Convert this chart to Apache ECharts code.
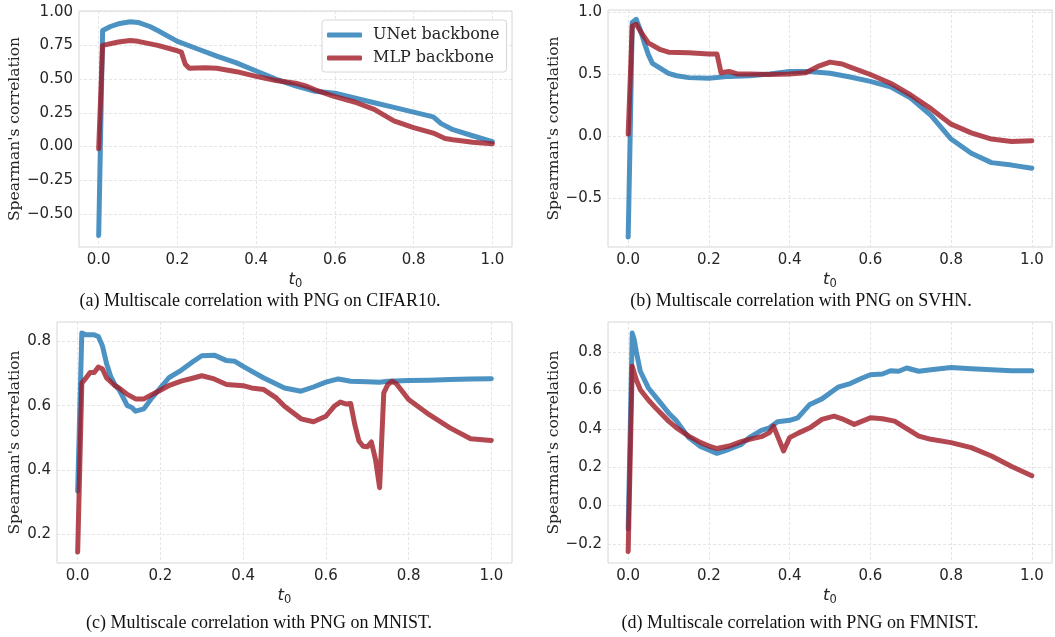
<!DOCTYPE html>
<html>
<head>
<meta charset="utf-8">
<script src="https://cdn.jsdelivr.net/npm/echarts@6/dist/echarts.min.js"></script>
<style>
  html, body { margin: 0; padding: 0; background: #fff; }
  #main { width: 1055px; height: 637px; }
</style>
</head>
<body>
<div id="main"></div>
<script>
// (a) CIFAR10
var aUnetT = [0, 0.01, 0.03, 0.05, 0.08, 0.1, 0.13, 0.15, 0.2, 0.25, 0.3, 0.35, 0.4, 0.45, 0.5, 0.55, 0.6, 0.65, 0.7, 0.75, 0.8, 0.85, 0.87, 0.9, 0.95, 1.0];
var aUnetV = [-0.66, 0.86, 0.89, 0.91, 0.925, 0.92, 0.89, 0.86, 0.78, 0.725, 0.67, 0.62, 0.56, 0.5, 0.45, 0.41, 0.395, 0.36, 0.325, 0.29, 0.255, 0.22, 0.17, 0.125, 0.08, 0.037];
var aMlpT = [0, 0.01, 0.05, 0.08, 0.1, 0.15, 0.2, 0.21, 0.22, 0.23, 0.27, 0.3, 0.35, 0.4, 0.45, 0.5, 0.53, 0.55, 0.6, 0.65, 0.7, 0.75, 0.8, 0.85, 0.88, 0.9, 0.95, 1.0];
var aMlpV = [-0.015, 0.75, 0.775, 0.787, 0.78, 0.75, 0.71, 0.7, 0.61, 0.58, 0.585, 0.58, 0.555, 0.52, 0.49, 0.47, 0.445, 0.42, 0.37, 0.33, 0.275, 0.19, 0.14, 0.1, 0.06, 0.05, 0.032, 0.02];

// (b) SVHN
var bUnetT = [0, 0.005, 0.01, 0.02, 0.03, 0.04, 0.05, 0.06, 0.08, 0.1, 0.12, 0.15, 0.2, 0.25, 0.3, 0.35, 0.4, 0.45, 0.5, 0.55, 0.6, 0.65, 0.7, 0.75, 0.8, 0.85, 0.9, 0.95, 1.0];
var bUnetV = [-0.81, 0.02, 0.92, 0.945, 0.86, 0.755, 0.66, 0.59, 0.55, 0.51, 0.49, 0.475, 0.47, 0.485, 0.49, 0.505, 0.525, 0.525, 0.51, 0.48, 0.445, 0.4, 0.31, 0.17, -0.02, -0.135, -0.21, -0.23, -0.255];
var bMlpT = [0, 0.01, 0.02, 0.03, 0.05, 0.08, 0.1, 0.15, 0.2, 0.22, 0.23, 0.25, 0.27, 0.3, 0.35, 0.4, 0.44, 0.47, 0.5, 0.53, 0.55, 0.6, 0.65, 0.7, 0.75, 0.8, 0.85, 0.9, 0.95, 1.0];
var bMlpV = [0.02, 0.89, 0.905, 0.85, 0.755, 0.7, 0.68, 0.675, 0.665, 0.665, 0.515, 0.525, 0.505, 0.505, 0.5, 0.505, 0.515, 0.565, 0.6, 0.585, 0.56, 0.5, 0.43, 0.335, 0.225, 0.1, 0.03, -0.02, -0.04, -0.033];

// (c) MNIST
var cUnetT = [0, 0.01, 0.02, 0.04, 0.05, 0.06, 0.07, 0.08, 0.09, 0.1, 0.12, 0.13, 0.14, 0.16, 0.18, 0.2, 0.22, 0.25, 0.28, 0.3, 0.33, 0.36, 0.38, 0.4, 0.45, 0.5, 0.54, 0.57, 0.6, 0.63, 0.66, 0.7, 0.73, 0.75, 0.8, 0.85, 0.9, 0.95, 1.0];
var cUnetV = [0.335, 0.826, 0.82, 0.82, 0.815, 0.785, 0.73, 0.69, 0.665, 0.65, 0.6, 0.595, 0.583, 0.59, 0.625, 0.655, 0.686, 0.71, 0.738, 0.755, 0.757, 0.74, 0.738, 0.722, 0.686, 0.655, 0.645, 0.658, 0.673, 0.683, 0.676, 0.674, 0.673, 0.676, 0.678, 0.679, 0.681, 0.683, 0.684];
var cMlpT = [0, 0.01, 0.02, 0.03, 0.04, 0.05, 0.06, 0.07, 0.09, 0.1, 0.12, 0.14, 0.16, 0.18, 0.2, 0.22, 0.25, 0.28, 0.3, 0.33, 0.36, 0.4, 0.42, 0.45, 0.48, 0.5, 0.54, 0.57, 0.6, 0.62, 0.635, 0.65, 0.66, 0.67, 0.68, 0.69, 0.7, 0.71, 0.72, 0.73, 0.74, 0.75, 0.76, 0.77, 0.8, 0.85, 0.9, 0.95, 1.0];
var cMlpV = [0.145, 0.67, 0.686, 0.703, 0.703, 0.72, 0.714, 0.686, 0.662, 0.655, 0.635, 0.621, 0.621, 0.635, 0.648, 0.662, 0.676, 0.686, 0.693, 0.683, 0.666, 0.662, 0.655, 0.65, 0.624, 0.598, 0.559, 0.55, 0.567, 0.598, 0.611, 0.605, 0.607, 0.541, 0.49, 0.474, 0.472, 0.487, 0.433, 0.345, 0.64, 0.666, 0.676, 0.669, 0.619, 0.572, 0.531, 0.497, 0.492];

// (d) FMNIST
var dUnetT = [0, 0.01, 0.015, 0.02, 0.03, 0.05, 0.07, 0.1, 0.12, 0.15, 0.18, 0.2, 0.22, 0.25, 0.28, 0.3, 0.33, 0.35, 0.37, 0.4, 0.42, 0.45, 0.48, 0.5, 0.52, 0.55, 0.58, 0.6, 0.63, 0.65, 0.67, 0.69, 0.72, 0.75, 0.8, 0.85, 0.9, 0.95, 1.0];
var dUnetV = [-0.122, 0.899, 0.864, 0.803, 0.7, 0.613, 0.561, 0.483, 0.44, 0.354, 0.307, 0.29, 0.272, 0.293, 0.319, 0.354, 0.392, 0.405, 0.437, 0.444, 0.457, 0.527, 0.556, 0.587, 0.617, 0.636, 0.665, 0.682, 0.686, 0.703, 0.7, 0.717, 0.7, 0.708, 0.72, 0.713, 0.708, 0.703, 0.703];
var dMlpT = [0, 0.01, 0.02, 0.03, 0.05, 0.07, 0.1, 0.12, 0.15, 0.18, 0.2, 0.22, 0.25, 0.28, 0.3, 0.33, 0.35, 0.36, 0.37, 0.38, 0.385, 0.4, 0.42, 0.45, 0.48, 0.51, 0.53, 0.56, 0.6, 0.63, 0.66, 0.7, 0.72, 0.75, 0.8, 0.85, 0.9, 0.95, 1.0];
var dMlpV = [-0.24, 0.726, 0.656, 0.604, 0.55, 0.504, 0.44, 0.405, 0.362, 0.328, 0.31, 0.297, 0.31, 0.333, 0.345, 0.359, 0.38, 0.414, 0.362, 0.31, 0.284, 0.354, 0.376, 0.405, 0.449, 0.466, 0.452, 0.423, 0.457, 0.452, 0.44, 0.388, 0.362, 0.345, 0.328, 0.302, 0.258, 0.203, 0.155];

var xTicks = [0, 0.2, 0.4, 0.6, 0.8, 1.0];
var yTicksA = [-0.5, -0.25, 0, 0.25, 0.5, 0.75, 1.0];
var yTicksB = [-0.5, 0, 0.5, 1.0];
var yTicksC = [0.2, 0.4, 0.6, 0.8];
var yTicksD = [-0.2, 0, 0.2, 0.4, 0.6, 0.8];

var seriesNames = ['UNet backbone', 'MLP backbone'];
var captions = [
  '(a) Multiscale correlation with PNG on CIFAR10.',
  '(b) Multiscale correlation with PNG on SVHN.',
  '(c) Multiscale correlation with PNG on MNIST.',
  '(d) Multiscale correlation with PNG on FMNIST.'
];

var BLUE = 'rgba(31,119,180,0.8)';
var RED = 'rgba(160,26,38,0.8)';
var TICK_FONT = 'DejaVu Sans';
var SERIF = 'DejaVu Serif';

function pairs(t, v) {
  var out = [];
  for (var i = 0; i < t.length; i++) out.push([t[i], v[i]]);
  return out;
}

function fmt(d) {
  return function (v) { return v.toFixed(d).replace('-', '\u2212'); };
}

var grids = [
  {left: 79, top: 11, width: 433, height: 236},
  {left: 608, top: 10, width: 444, height: 237},
  {left: 57, top: 322, width: 455, height: 241},
  {left: 608, top: 322, width: 444, height: 241}
];
var yRanges = [[-0.745, 1.005], [-0.89, 1.02], [0.111, 0.86], [-0.30, 0.957]];
var yTicks = [yTicksA, yTicksB, yTicksC, yTicksD];
var yDec = [2, 1, 1, 1];
var yGaps = [56, 46, 34, 46];
var data = [
  [pairs(aUnetT, aUnetV), pairs(aMlpT, aMlpV)],
  [pairs(bUnetT, bUnetV), pairs(bMlpT, bMlpV)],
  [pairs(cUnetT, cUnetV), pairs(cMlpT, cMlpV)],
  [pairs(dUnetT, dUnetV), pairs(dMlpT, dMlpV)]
];

var xAxes = [], yAxes = [], series = [], graphics = [];
for (var k = 0; k < 4; k++) {
  grids[k].show = true;
  grids[k].borderColor = '#d6d6d6';
  grids[k].borderWidth = 1;
  grids[k].backgroundColor = '#fff';
  xAxes.push({
    gridIndex: k, type: 'value', min: -0.05, max: 1.05,
    name: '{i|t}{s|0}', nameLocation: 'middle', nameGap: 22,
    nameTextStyle: {
      rich: {
        i: {fontFamily: TICK_FONT, fontStyle: 'italic', fontSize: 16.5, color: '#262626'},
        s: {fontFamily: TICK_FONT, fontSize: 11.5, color: '#262626', padding: [9, 0, 0, 0]}
      }
    },
    axisLine: {show: false},
    axisTick: {show: false, customValues: xTicks},
    axisLabel: {customValues: xTicks, formatter: fmt(1), fontFamily: TICK_FONT, fontSize: 15, color: '#262626', margin: 6},
    splitLine: {show: true, lineStyle: {color: '#dedede', type: [3, 2], width: 0.8}}
  });
  yAxes.push({
    gridIndex: k, type: 'value', min: yRanges[k][0], max: yRanges[k][1],
    name: "Spearman's correlation", nameLocation: 'middle', nameGap: yGaps[k], nameRotate: 90,
    nameTextStyle: {fontFamily: SERIF, fontSize: 15.5, color: '#262626'},
    axisLine: {show: false},
    axisTick: {show: false, customValues: yTicks[k]},
    axisLabel: {customValues: yTicks[k], formatter: fmt(yDec[k]), fontFamily: TICK_FONT, fontSize: 15, color: '#262626', margin: 6},
    splitLine: {show: true, lineStyle: {color: '#dedede', type: [3, 2], width: 0.8}}
  });
  series.push({
    name: seriesNames[0], type: 'line', xAxisIndex: k, yAxisIndex: k,
    data: data[k][0], showSymbol: false, symbol: 'none', animation: false,
    lineStyle: {color: BLUE, width: 5, cap: 'round', join: 'round'}, itemStyle: {color: BLUE}
  });
  series.push({
    name: seriesNames[1], type: 'line', xAxisIndex: k, yAxisIndex: k,
    data: data[k][1], showSymbol: false, symbol: 'none', animation: false,
    lineStyle: {color: RED, width: 5, cap: 'round', join: 'round'}, itemStyle: {color: RED}
  });
}

var capPos = [[260, 301], [801, 301], [259, 623], [800, 623]];
for (var c = 0; c < 4; c++) {
  graphics.push({
    type: 'text', x: capPos[c][0], y: capPos[c][1],
    style: {text: captions[c], fontFamily: 'Liberation Serif', fontSize: 18, fill: '#111', align: 'center', verticalAlign: 'middle'}
  });
}

var myChart = echarts.init(document.getElementById('main'), null, {renderer: 'canvas'});
var option = {
  backgroundColor: '#fff',
  animation: false,
  grid: grids,
  xAxis: xAxes,
  yAxis: yAxes,
  legend: {
    data: seriesNames, orient: 'vertical', left: 322, top: 20,
    itemWidth: 35, itemHeight: 5, itemGap: 7, icon: 'roundRect',
    padding: [7, 7, 6, 5],
    borderColor: '#d6d6d6', borderWidth: 1, borderRadius: 3, backgroundColor: '#fff',
    textStyle: {fontFamily: SERIF, fontSize: 16, color: '#262626', padding: [0, 0, 0, 6]}
  },
  series: series,
  graphic: graphics
};
myChart.setOption(option);
</script>
</body>
</html>
